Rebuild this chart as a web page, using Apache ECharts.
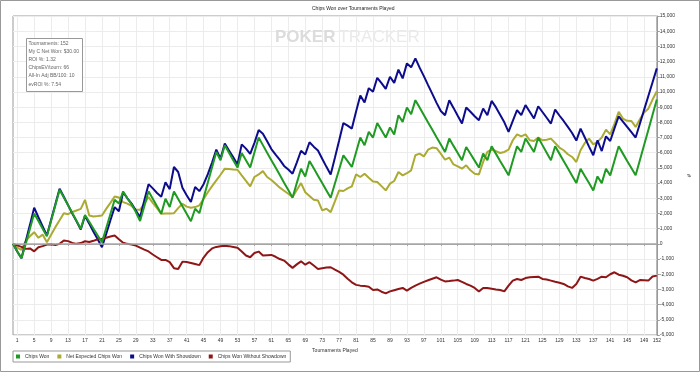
<!DOCTYPE html>
<html><head><meta charset="utf-8">
<script src="https://cdn.jsdelivr.net/npm/echarts@6/dist/echarts.min.js"></script>
<style>html,body{margin:0;padding:0;background:#fff}#c{width:700px;height:372px}</style>
</head><body><div id="c"></div>
<script>
const FONT = '"Liberation Sans", Arial, sans-serif';
const chartTitle = 'Chips Won over Tournaments Played';
const xAxisName = 'Tournaments Played';
const yAxisName = '#';
const seriesNames = ['Chips Won', 'Net Expected Chips Won', 'Chips Won With Showdown', 'Chips Won Without Showdown'];
const seriesColors = ['#1f9a22', '#abab33', '#0c0c8c', '#8e1616'];
const statsLines = ['Tournaments: 152', 'My C Net Won: $30.00', 'ROI %: 1.32', 'ChipsEV/tourn: 66', 'All-In Adj BB/100: 10', 'evROI %: 7.54'];
const xLabelIndices = [1,5,9,13,17,21,25,29,33,37,41,45,49,53,57,61,65,69,73,77,81,85,89,93,97,101,105,109,113,117,121,125,129,133,137,141,145,149,152];
const tournaments = [];
for (let i = 0; i <= 152; i++) tournaments.push(String(i));

const chipsWon = [0,-500,-950,0,1000,2000,1500,1000,500,1520,
2540,3560,3050,2540,2030,1520,1000,1900,1450,1000,
550,100,1030,1960,2900,2650,3450,3000,2600,2100,
1500,2480,3470,2970,2470,1980,2970,2420,3450,2960,
2470,1980,1490,2310,2020,3030,4040,5050,6050,5500,
6490,6000,5510,5020,5980,5500,5020,6010,7000,6500,
6000,5510,5020,4530,4030,3540,3040,4000,4950,4440,
5450,4970,4490,4000,3520,3040,3970,4900,5830,5450,
5060,6030,7000,6490,7370,7000,7960,7480,7000,7660,
7200,8470,8030,8980,8530,9460,8970,8480,7990,7510,
7020,6540,6050,6930,6450,5980,5500,6380,5930,5480,
5020,5940,5500,6420,5940,5460,4990,4510,5470,6420,
6050,6930,6490,6050,7000,6500,6000,5500,6420,5940,
5460,4980,4490,4000,4950,4470,4000,3520,4440,4000,
4950,4510,5470,6420,5940,5460,4990,4510,5510,6510,
7500,8500,9500];

const netExpected = [0,-250,-400,200,500,770,400,610,110,600,
1100,1550,2020,1950,2100,2200,2300,2900,1870,1800,
1830,1870,2300,2700,3120,3050,2750,2650,2500,2250,
2240,2650,3080,2700,2350,1980,2000,2000,2020,2350,
2640,2450,2380,2420,2530,2950,3400,3800,4180,4550,
4950,4930,4900,4880,4510,4150,3780,4400,4570,4790,
4400,4200,3950,3700,3500,3300,3080,3550,4000,3400,
3150,2900,2860,2200,2310,2090,2800,3520,3480,3650,
3780,4570,4400,4620,4350,4100,4070,3800,3520,3960,
4140,4730,4510,4650,4840,5830,5940,5760,6200,6340,
6300,5940,5540,5680,5230,5100,4950,5170,4840,4620,
4570,5390,6050,6200,6110,5980,6050,6200,6820,7210,
7080,7210,6820,6770,7000,6820,6850,6930,6640,6340,
6160,5900,5720,5390,6160,6640,6930,6550,6710,7000,
7520,7210,7900,8690,8250,8100,8090,7700,8200,8650,
8900,9500,10050];

const withShowdown = [0,-500,-950,150,1250,2380,1750,1150,550,1580,
2600,3630,3100,2550,2000,1480,950,1850,1330,800,
300,-220,650,1550,2420,2150,3400,3000,2650,2200,
1750,2860,3930,3650,3350,3100,4050,3600,5060,4730,
3700,3200,2750,3740,3470,3930,4590,5350,6200,5610,
6600,6150,5700,5230,6550,6270,5920,6650,7490,7250,
6750,6240,5870,5530,5130,4890,4620,5350,6130,5880,
6690,6400,6150,5600,5070,4560,5670,6800,7950,7780,
7590,8720,9770,9300,10250,10020,10930,10580,10200,11000,
10600,11470,10890,11880,11620,12210,11600,11040,10450,9870,
9280,8750,8470,9460,8950,8430,7920,8980,8700,8400,
8140,8910,8470,9410,9000,8500,8000,7370,8100,8800,
8470,9130,8700,8250,9060,8680,8300,7920,8840,8450,
8090,7700,7300,6800,7590,7000,6400,5830,6820,6110,
7080,6770,7600,8400,8050,7700,7350,7000,7910,8820,
9730,10640,11550];

const withoutShowdown = [0,-100,-200,-330,-300,-490,-220,-150,-50,-30,
-80,0,220,180,60,0,50,170,120,200,
300,330,400,480,550,300,70,0,-50,-110,
-250,-380,-500,-700,-880,-1060,-1060,-1200,-1600,-1650,
-1170,-1200,-1260,-1330,-1400,-900,-550,-300,-200,-160,
-130,-150,-200,-250,-500,-770,-880,-600,-510,-770,
-750,-730,-850,-1000,-1100,-1350,-1580,-1350,-1150,-1370,
-1210,-1430,-1650,-1600,-1550,-1540,-1700,-1850,-2030,-2300,
-2530,-2700,-2750,-2780,-2820,-3040,-3000,-3150,-3260,-3130,
-3050,-2970,-2900,-3080,-2900,-2750,-2620,-2500,-2400,-2300,
-2200,-2350,-2470,-2450,-2420,-2380,-2500,-2640,-2750,-2900,
-3130,-2900,-2900,-2950,-3000,-3040,-3130,-2750,-2420,-2310,
-2380,-2250,-2200,-2180,-2160,-2310,-2350,-2420,-2500,-2560,
-2640,-2800,-2900,-2640,-2160,-2250,-2310,-2420,-2300,-2160,
-2200,-2000,-1870,-2030,-2100,-2200,-2400,-2530,-2380,-2400,
-2420,-2150,-2090];

const seriesData = [chipsWon, netExpected, withShowdown, withoutShowdown];
const labelSet = new Set(xLabelIndices);
const showIdx = (idx) => labelSet.has(idx);

const chart = echarts.init(document.getElementById('c'), null, {renderer: 'canvas'});
const option = {
  animation: false,
  backgroundColor: '#fff',
  textStyle: {fontFamily: FONT},
  title: {
    text: chartTitle, left: 312, top: 6, padding: 0,
    textStyle: {fontSize: 5, fontWeight: 'normal', color: '#222', fontFamily: FONT}
  },
  grid: {left: 13, right: 39, top: 16, bottom: 37, show: true, borderColor: '#9a9a9a', borderWidth: 1, backgroundColor: 'transparent'},
  legend: {
    data: seriesNames, left: 13, top: 351, orient: 'horizontal',
    icon: 'rect', itemWidth: 4, itemHeight: 4, itemGap: 8,
    padding: [3, 4, 3, 3], borderColor: '#999', borderWidth: 1,
    textStyle: {fontSize: 5, color: '#333', fontFamily: FONT}
  },
  xAxis: {
    type: 'category', data: tournaments, boundaryGap: false,
    name: xAxisName, nameLocation: 'middle', nameGap: 12,
    nameTextStyle: {fontSize: 5, color: '#333', fontFamily: FONT},
    axisLine: {lineStyle: {color: '#9a9a9a'}},
    axisTick: {show: true, interval: showIdx, length: 2, lineStyle: {color: '#9a9a9a'}},
    axisLabel: {interval: showIdx, fontSize: 5, color: '#333', margin: 3, fontFamily: FONT},
    splitLine: {show: true, interval: showIdx, lineStyle: {color: '#ececec', width: 1}}
  },
  yAxis: {
    type: 'value', position: 'right', min: -6000, max: 15000, interval: 1000,
    name: yAxisName, nameLocation: 'middle', nameGap: 25, nameRotate: 90,
    nameTextStyle: {fontSize: 6, color: '#333', fontFamily: FONT},
    axisLine: {show: true, lineStyle: {color: '#9a9a9a'}},
    axisTick: {show: true, length: 3, lineStyle: {color: '#9a9a9a'}},
    axisLabel: {fontSize: 5, color: '#333', margin: 3, fontFamily: FONT,
      formatter: v => v.toLocaleString('en-US')},
    splitLine: {show: true, lineStyle: {color: '#ececec', width: 1}}
  },
  graphic: [
    {type: 'rect', z: 100, silent: true, shape: {x: 0.5, y: 0.5, width: 699, height: 371},
      style: {fill: 'none', stroke: '#999', lineWidth: 1}},
    {type: 'text', z: 1, silent: true, x: 275, y: 37,
      style: {text: '{a|POKER}{b|TRACKER}', verticalAlign: 'middle',
        rich: {
          a: {fontSize: 17, fontWeight: 'bold', fill: '#dcdcdc', color: '#dcdcdc', fontFamily: FONT, padding: [0, 3, 0, 0]},
          b: {fontSize: 17, fontWeight: 'normal', fill: '#eaeaea', color: '#eaeaea', fontFamily: '"Liberation Sans Narrow", ' + FONT}
        }}},
    {type: 'rect', z: 10, silent: true, shape: {x: 26.5, y: 38.5, width: 56, height: 53},
      style: {fill: '#fff', stroke: '#999', lineWidth: 1}},
    {type: 'text', z: 11, silent: true, x: 28.5, y: 39.2,
      style: {text: statsLines.join('\n'), fontSize: 5, lineHeight: 8.2, fill: '#666', fontFamily: FONT}}
  ],
  series: seriesNames.map((name, k) => ({
    name: name, type: 'line', data: seriesData[k],
    symbol: 'none', showSymbol: false,
    z: k === 0 ? 4 : 3,
    lineStyle: {width: 2, color: seriesColors[k]},
    itemStyle: {color: seriesColors[k]},
    markLine: k === 3 ? {
      silent: true, symbol: 'none', label: {show: false},
      lineStyle: {color: '#a8a8a8', width: 1.5, type: 'solid'},
      data: [{yAxis: 0}]
    } : undefined
  }))
};
chart.setOption(option);
</script>
</body></html>
